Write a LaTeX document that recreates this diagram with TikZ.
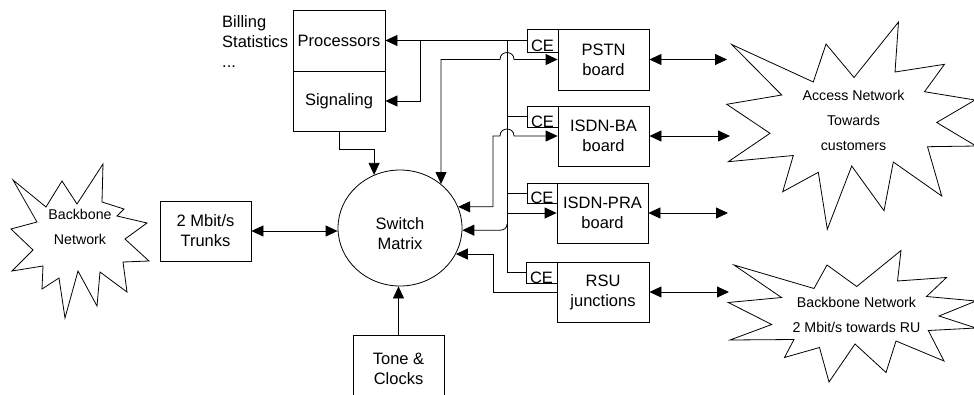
\documentclass[tikz,border=0pt]{standalone}
\usepackage{fontspec}
\setmainfont{Liberation Sans}
\usetikzlibrary{arrows.meta,shapes.geometric}
\begin{document}
\begin{tikzpicture}[x=1pt,y=-1pt,
  >={Triangle[length=12pt,width=11pt]},
  ln/.style={line width=0.8pt,draw=black},
  boxnode/.style={draw,line width=0.8pt,minimum width=91pt,minimum height=60pt,inner sep=0pt,align=center,font=\fontsize{16.5}{20}\selectfont},
  cenode/.style={draw,line width=0.8pt,minimum width=31pt,minimum height=23pt,inner sep=0pt,text height=21pt,text depth=0pt,font=\fontsize{16.5}{20}\selectfont},
  lbl/.style={inner sep=0pt,align=center,font=\fontsize{16.5}{20}\selectfont},
  starlbl/.style={inner sep=0pt,align=center,font=\fontsize{14.2}{25}\selectfont},
  star/.style={draw,line width=0.8pt,line join=miter}
]
\useasboundingbox (0,0) rectangle (974,394);
\clip (0,0) rectangle (974,394);

% stars
\draw[star] (13,180) -- (46,207) -- (62,181) -- (77,204) -- (103,164) -- (102,202) -- (124,209) -- (117,216) -- (147,223) -- (125,239) -- (149,261) -- (123,262) -- (127,292) -- (100,272) -- (97,306) -- (78,271) -- (65,318) -- (59,278) -- (42,289) -- (43,266) -- (12,271) -- (33,250) -- (11,229) -- (37,222) -- cycle;
\node[starlbl] (bbt) at (80,226.5) {Backbone\\Network};

\draw[star] (731.7,44.5) -- (813.3,82) -- (826,44) -- (854,77.5) -- (898.5,22) -- (895,72) -- (944.5,64.3) -- (924.5,91.7) -- (975,100) -- (936.7,122.5) -- (976,146) -- (927.5,146.7) -- (941.7,196) -- (893.3,162) -- (884,210.7) -- (851.7,166) -- (827.3,229.3) -- (818.3,172.3) -- (782.7,191.7) -- (793.3,155.5) -- (728.3,161.7) -- (770,133.3) -- (726.7,104.3) -- (781.7,95) -- cycle;
\node[starlbl] (ant) at (853.5,120) {Access Network\\Towards\\customers};

\draw[star] (734,265) -- (814,288.5) -- (827,265) -- (856.7,286.5) -- (901,250.5) -- (897.5,281) -- (946.5,277.5) -- (926.5,296.5) -- (976,301) -- (939,316) -- (976,328) -- (928.3,330.5) -- (944,361) -- (896,341) -- (886,372.5) -- (855,344) -- (829,382) -- (819.5,347.5) -- (784.5,357.5) -- (794,339.5) -- (730,340) -- (771.7,324.5) -- (728.3,302.5) -- (781.5,297.5) -- cycle;
\node[starlbl] (rut) at (856.5,314.5) {Backbone Network\\2 Mbit/s towards RU};

% boxes
\node[boxnode,minimum width=92pt,minimum height=61pt] (proc) at (339,40.5) {Processors};
\node[boxnode,minimum width=92pt,minimum height=60pt] (sig) at (339,101) {Signaling};
\node[lbl,anchor=west,align=left] (bill) at (222,42) {Billing\\Statistics\\...};

\node[boxnode,minimum height=61pt] (pstn) at (603.5,59.5) {PSTN\\board};
\node[cenode] (ce1) at (542.5,40.5) {CE};
\node[boxnode] (isdnba) at (603.5,136) {ISDN-BA\\board};
\node[cenode,minimum height=21pt] (ce2) at (542.5,116.5) {CE};
\node[boxnode] (isdnpra) at (602.5,213) {ISDN-PRA\\board};
\node[cenode,minimum width=30pt,minimum height=20pt,text height=20pt] (ce3) at (542,193) {CE};
\node[boxnode,minimum width=92pt] (rsu) at (603,292) {RSU\\junctions};
\node[cenode,minimum height=21pt] (ce4) at (541.5,272.5) {CE};

\node[boxnode] (trunks) at (205.5,231) {2 Mbit/s\\Trunks};
\node[boxnode,minimum height=68pt] (tone) at (398.5,369) {Tone \&\\Clocks};

\node[draw,ellipse,line width=0.8pt,minimum width=124pt,minimum height=116pt,inner sep=0pt] (sw) at (400,228) {};
\node[lbl] (swt) at (400,233.5) {Switch\\Matrix};

% connectors
\coordinate (jb) at (507,40.5);
\coordinate (br) at (420,40.5);
\draw[ln,->] (ce1.west) -- (proc.east);
\draw[ln,->] (br) |- (sig.east);
\draw[ln] (jb) |- (ce4.west);
\coordinate (b2) at (507,116.5);
\draw[ln] (b2) -- (ce2.west);
\coordinate (b3) at (507,193);
\draw[ln] (b3) -- (ce3.west);

\coordinate (p1) at (441,59.5);
\draw[ln,<->] (sw.47) -- (sw.47 |- p1) -- (500,59.5) .. controls (500,50.2) and (514,50.2) .. (514,59.5) -- (pstn.west);

\coordinate (q1) at (493,136);
\draw[ln,<->] (sw.20) -- (sw.20 -| q1) -- (q1) -- (500,136) .. controls (500,126.7) and (514,126.7) .. (514,136) -- (isdnba.west);

\coordinate (b4) at (507,213);
\draw[ln,->] (b4) -- (isdnpra.west);
\draw[ln,<-] (sw.-2) -- (500,230.2) .. controls (504,230.2) and (507,228) .. (507,224);

\coordinate (r1) at (493,292);
\draw[ln,<-] (sw.-25) -- (sw.-25 -| r1) -- (r1) -- (rsu.west);

\coordinate (s1) at (339,149);
\draw[ln,->] (sig.south) -- (s1) -| (sw.116);

\draw[ln,<->] (trunks.east) -- (trunks.east -| sw.west);
\draw[ln,->] (tone.north) -- (tone.north |- sw.south);

\coordinate (e1) at (727,59.5);
\coordinate (e2) at (730,136);
\coordinate (e3) at (728,213);
\coordinate (e4) at (729,292);
\draw[ln,<->] (pstn.east) -- (e1);
\draw[ln,<->] (isdnba.east) -- (e2);
\draw[ln,<->] (isdnpra.east) -- (e3);
\draw[ln,<->] (rsu.east) -- (e4);
\end{tikzpicture}
\end{document}
